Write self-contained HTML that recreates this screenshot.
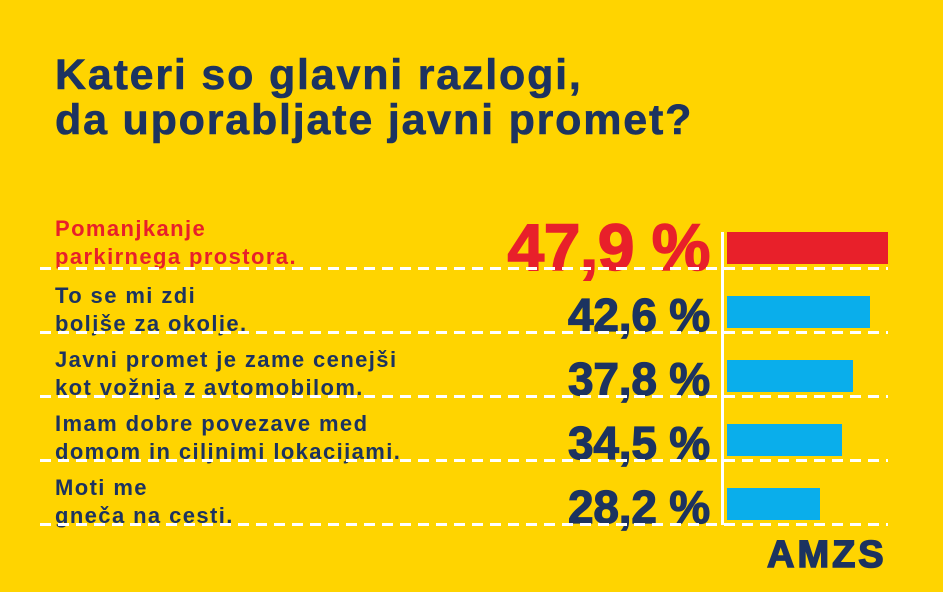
<!DOCTYPE html>
<html><head><meta charset="utf-8"><style>
body{margin:0;width:943px;height:592px;background:#FFD400;overflow:hidden;position:relative;font-family:"Liberation Sans",sans-serif;font-weight:bold;color:#1C3360}
.t{position:absolute;left:55px;font-size:43px;line-height:45px;top:53px;letter-spacing:1.8px;-webkit-text-stroke:0.6px #1C3360}
.l{position:absolute;left:55px;font-size:22px;line-height:28px;letter-spacing:1.4px}
.p{position:absolute;right:233px;font-size:46px;line-height:44px;letter-spacing:-0.2px;-webkit-text-stroke:1.2px #1C3360}
.d{position:absolute;left:40px;width:848px;height:3px;background:repeating-linear-gradient(90deg,#fff 0 11px,transparent 11px 18px)}
.b{position:absolute;left:727px;height:32px;background:#0AAEEB}
</style></head><body>
<div class="t">Kateri so glavni razlogi,<br>da uporabljate javni promet?</div>
<div style="position:absolute;left:721px;top:232px;width:3px;height:293px;background:#fff"></div>

<div class="l" style="top:215px;color:#E8202A">Pomanjkanje<br>parkirnega prostora.</div>
<div class="p" style="top:216px;font-size:66px;line-height:62px;letter-spacing:-0.5px;color:#E8202A;-webkit-text-stroke:1.5px #E8202A">47,9 %</div>
<div class="b" style="top:232px;width:161px;background:#E8202A"></div>
<div class="d" style="top:267px"></div>

<div class="l" style="top:282px">To se mi zdi<br>boljše za okolje.</div>
<div class="p" style="top:293px">42,6 %</div>
<div class="b" style="top:296px;width:143px"></div>
<div class="d" style="top:331px"></div>

<div class="l" style="top:346px">Javni promet je zame cenejši<br>kot vožnja z avtomobilom.</div>
<div class="p" style="top:357px">37,8 %</div>
<div class="b" style="top:360px;width:126px"></div>
<div class="d" style="top:395px"></div>

<div class="l" style="top:410px">Imam dobre povezave med<br>domom in ciljnimi lokacijami.</div>
<div class="p" style="top:421px">34,5 %</div>
<div class="b" style="top:424px;width:115px"></div>
<div class="d" style="top:459px"></div>

<div class="l" style="top:474px">Moti me<br>gneča na cesti.</div>
<div class="p" style="top:485px">28,2 %</div>
<div class="b" style="top:488px;width:93px"></div>
<div class="d" style="top:523px"></div>

<div style="position:absolute;left:767px;top:535px;font-size:38px;line-height:40px;letter-spacing:3px;-webkit-text-stroke:1.5px #1C3360">AMZS</div>
</body></html>
